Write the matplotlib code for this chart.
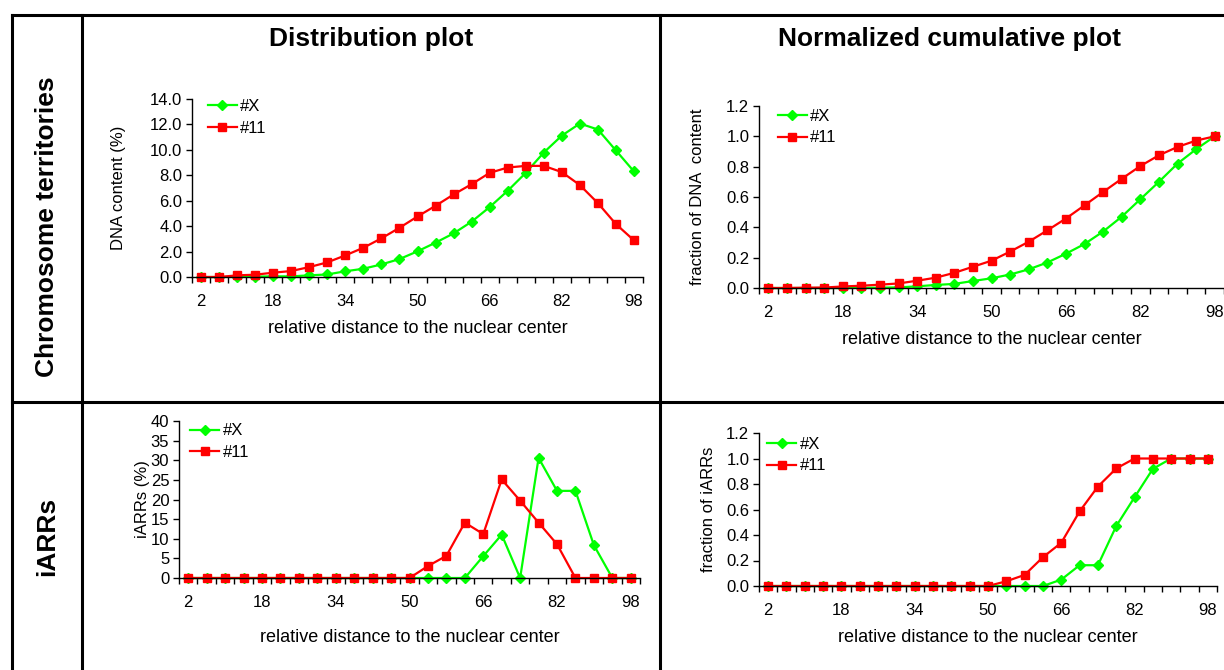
import matplotlib
matplotlib.use("Agg")
import matplotlib.pyplot as plt
from matplotlib.lines import Line2D
from matplotlib.ticker import FixedLocator, FormatStrFormatter

plt.rcParams['font.family'] = ['Liberation Sans', 'DejaVu Sans']

# relative distance categories
distances = list(range(2, 99, 4))
tick_labels = ['2', '18', '34', '50', '66', '82', '98']

# chromosome territories, DNA content (%)
ct_dist_x = [0.0, 0.0, 0.02, 0.03, 0.05, 0.05, 0.13, 0.2, 0.45, 0.65, 0.99, 1.41, 2.02,
             2.70, 3.43, 4.35, 5.50, 6.78, 8.19, 9.79, 11.12, 12.07, 11.60, 9.95, 8.30]
ct_dist_11 = [0.0, 0.0, 0.13, 0.18, 0.34, 0.47, 0.78, 1.15, 1.70, 2.30, 3.04, 3.87, 4.76,
              5.60, 6.49, 7.30, 8.19, 8.61, 8.74, 8.74, 8.25, 7.23, 5.81, 4.16, 2.88]

# chromosome territories, normalized cumulative
ct_cum_x = [0.0, 0.0, 0.0, 0.0, 0.0, 0.001, 0.002, 0.004, 0.011, 0.02, 0.027, 0.046, 0.064,
            0.089, 0.123, 0.168, 0.226, 0.29, 0.372, 0.47, 0.585, 0.70, 0.82, 0.915, 1.0]
ct_cum_11 = [0.0, 0.0, 0.002, 0.003, 0.01, 0.015, 0.022, 0.03, 0.048, 0.068, 0.10, 0.14, 0.18,
             0.24, 0.305, 0.38, 0.458, 0.545, 0.633, 0.72, 0.804, 0.875, 0.93, 0.972, 1.0]

# iARRs (%)
ia_dist_x = [0, 0, 0, 0, 0, 0, 0, 0, 0, 0, 0, 0, 0,
             0, 0, 0, 5.57, 11.05, 0, 30.6, 22.2, 22.2, 8.35, 0, 0]
ia_dist_11 = [0, 0, 0, 0, 0, 0, 0, 0, 0, 0, 0, 0, 0,
              3.04, 5.65, 14.1, 11.2, 25.1, 19.7, 14.1, 8.6, 0, 0, 0, 0]

# iARRs, normalized cumulative
ia_cum_x = [0, 0, 0, 0, 0, 0, 0, 0, 0, 0, 0, 0, 0,
            0, 0, 0, 0.05, 0.163, 0.163, 0.47, 0.696, 0.919, 1.0, 1.0, 1.0]
ia_cum_11 = [0, 0, 0, 0, 0, 0, 0, 0, 0, 0, 0, 0, 0,
             0.037, 0.087, 0.226, 0.339, 0.585, 0.78, 0.922, 1.0, 1.0, 1.0, 1.0, 1.0]

W, H = 1224, 670
GREEN = '#00ff00'
RED = '#ff0000'


def rect(l, t, r, b):
    # pixel box -> figure fraction
    return [l / W, 1 - b / H, (r - l) / W, (b - t) / H]


def draw_panel(fig, box, sx, s11, ymax, ystep, yfmt, ylabel, ylab_x, xlab_pad, leg_anchor):
    ax = fig.add_axes(rect(*box))
    n = len(distances)
    xs = list(range(n))
    ax.plot(xs, sx, color=GREEN, marker='D', markersize=5, lw=1.6, label='#X', clip_on=False)
    ax.plot(xs, s11, color=RED, marker='s', markersize=6, lw=1.6, label='#11', clip_on=False)
    ax.set_xlim(-0.5, n - 0.5)
    ax.set_ylim(0, ymax)
    ax.set_yticks([i * ystep for i in range(int(round(ymax / ystep)) + 1)])
    ax.yaxis.set_major_formatter(FormatStrFormatter(yfmt))
    ax.xaxis.set_major_locator(FixedLocator([i - 0.5 for i in range(n + 1)]))
    ax.xaxis.set_major_formatter(plt.NullFormatter())
    ax.xaxis.set_minor_locator(FixedLocator([distances.index(int(t)) for t in tick_labels]))
    ax.set_xticklabels(tick_labels, minor=True)
    ax.tick_params(axis='x', which='minor', length=0, pad=12, labelsize=12)
    ax.tick_params(axis='x', which='major', length=4, width=1, direction='out')
    ax.tick_params(axis='y', length=4, width=1, direction='out', labelsize=12, pad=3)
    for s in ['top', 'right']:
        ax.spines[s].set_visible(False)
    for s in ['left', 'bottom']:
        ax.spines[s].set_linewidth(1)
    ax.set_xlabel('relative distance to the nuclear center', fontsize=13, labelpad=xlab_pad)
    ax.set_ylabel(ylabel, fontsize=12)
    ax.yaxis.set_label_coords(ylab_x, 0.5)
    ax.legend(loc='upper left', bbox_to_anchor=leg_anchor, frameon=False, fontsize=12,
              handlelength=1.75, handletextpad=0.2, labelspacing=0.4, borderaxespad=0,
              borderpad=0)
    return ax


fig = plt.figure(figsize=(W / 100, H / 100), dpi=100)

draw_panel(fig, (192, 99, 643, 277), ct_dist_x, ct_dist_11, 14, 2, '%.1f',
           'DNA content (%)', -0.146, 8, (0.035, 1.0))
draw_panel(fig, (759, 106, 1224, 288), ct_cum_x, ct_cum_11, 1.2, 0.2, '%.1f',
           'fraction of DNA  content', -0.116, 8, (0.04, 0.985))
draw_panel(fig, (179, 421, 640, 578), ia_dist_x, ia_dist_11, 40, 5, '%d',
           'iARRs (%)', -0.062, 14, (0.024, 0.985))
draw_panel(fig, (759, 433, 1217, 586), ia_cum_x, ia_cum_11, 1.2, 0.2, '%.1f',
           'fraction of iARRs', -0.094, 8, (0.018, 0.975))

# table grid lines
grid = [((12, 15), (12, 670)), ((82, 15), (82, 670)), ((660, 15), (660, 670)),
        ((12, 15), (1224, 15)), ((12, 402), (1224, 402))]
for (x0, y0), (x1, y1) in grid:
    fig.add_artist(Line2D([x0 / W, x1 / W], [1 - y0 / H, 1 - y1 / H], color='black',
                          lw=2.2, transform=fig.transFigure))

fig.text(371 / W, 1 - 39 / H, 'Distribution plot', ha='center', va='center',
         fontsize=19, fontweight='bold')
fig.text(950 / W, 1 - 39 / H, 'Normalized cumulative plot', ha='center', va='center',
         fontsize=19, fontweight='bold')
fig.text(47 / W, 1 - 227 / H, 'Chromosome territories', ha='center', va='center',
         rotation=90, fontsize=19, fontweight='bold')
fig.text(47 / W, 1 - 536 / H, 'iARRs', ha='center', va='center',
         rotation=90, fontsize=19, fontweight='bold')

fig.savefig('out.png', dpi=100)
